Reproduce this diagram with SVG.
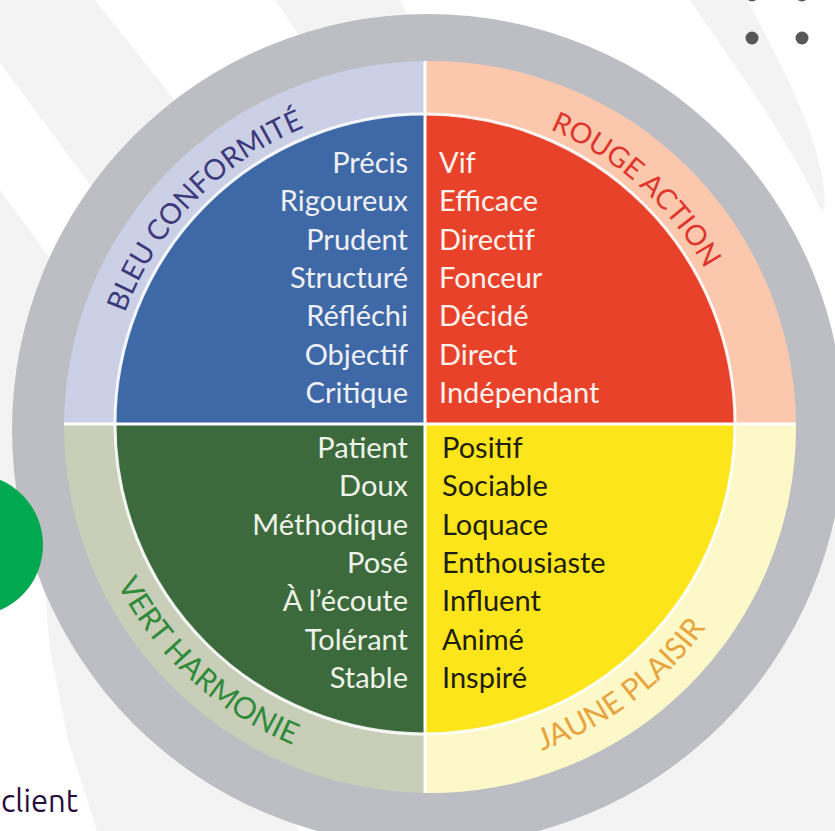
<svg xmlns="http://www.w3.org/2000/svg" width="835" height="831" viewBox="0 0 835 831">
<defs>
<style>
.w{font-family:Lato,"Open Sans","Liberation Sans",sans-serif;font-size:29px}
.lbl{font-family:Lato,"Open Sans","Liberation Sans",sans-serif;font-size:28.5px;font-weight:400}
.lblb{font-size:30px}
.bg{fill:#ffffff}
.dot{fill:#58585a}
.div{stroke:#ffffff;stroke-width:3;fill:none}
</style>
<path id="arcTop" d="M105,424 A320,320 0 0 1 745,424"/>
<path id="arcBot" d="M78,424 A347,347 0 0 0 772,424"/>
</defs>

<g id="background">
<rect x="0" y="0" width="835" height="831" fill="#f3f3f3"/>
<polygon class="bg" points="95,0 275,0 330,80 230,170"/>
<polygon class="bg" points="0,63 120,225 80,300 0,190"/>
<polygon class="bg" points="400,0 835,0 835,450 600,450"/>
<path fill="#f3f3f3" d="M690,0 L747,0 C790,80 825,150 825,205 L822,212 C790,140 730,60 690,0 Z"/>
<polygon class="bg" points="0,560 42,560 50,650 68,740 97,831 0,831"/>
<polygon class="bg" points="285,760 330,760 330,831 298,831"/>
</g>

<g id="decor">
<circle class="dot" cx="752" cy="-5" r="6.5"/>
<circle class="dot" cx="802" cy="-5" r="6.5"/>
<circle class="dot" cx="752" cy="38" r="6.5"/>
<circle class="dot" cx="802" cy="38" r="6.5"/>
</g>

<g id="outer-ring">
<circle cx="428" cy="430" r="416" fill="#bdbec3"/>
</g>

<g id="green-dot">
<circle cx="-28" cy="545" r="71" fill="#00a84f"/>
</g>

<g id="ring-bleu"><path d="M425,424 L425,61 A366,366 0 0 0 64,424 Z" fill="#ccd0e6"/></g>
<g id="ring-rouge"><path d="M425,424 L425,61 A366,366 0 0 1 796,424 Z" fill="#fbc8ae"/></g>
<g id="ring-vert"><path d="M425,424 L64,424 A366,366 0 0 0 425,793 Z" fill="#c8ceb7"/></g>
<g id="ring-jaune"><path d="M425,424 L796,424 A366,366 0 0 1 425,793 Z" fill="#fdf8c8"/></g>

<g id="quad-bleu"><path d="M425,424 L425,114 A310,310 0 0 0 115,424 Z" fill="#3f69a6"/></g>
<g id="quad-rouge"><path d="M425,424 L425,114 A310,310 0 0 1 735,424 Z" fill="#e8422a"/></g>
<g id="quad-vert"><path d="M425,424 L115,424 A310,310 0 0 0 425,734 Z" fill="#3d6a3c"/></g>
<g id="quad-jaune"><path d="M425,424 L735,424 A310,310 0 0 1 425,734 Z" fill="#fce51a"/></g>

<g id="dividers">
<circle class="div" cx="425" cy="424" r="310" stroke-width="2.5" opacity="0.9"/>
<line class="div" x1="425" y1="61" x2="425" y2="793"/>
<line class="div" x1="64" y1="424" x2="796" y2="424"/>
</g>

<g id="labels">
<text class="lbl" fill="#3d3a7c" text-anchor="middle"><textPath href="#arcTop" startOffset="246">BLEU CONFORMITÉ</textPath></text>
<text class="lbl" fill="#e0352b" text-anchor="middle"><textPath href="#arcTop" startOffset="737">ROUGE ACTION</textPath></text>
<text class="lbl lblb" fill="#2f8a3a" text-anchor="middle"><textPath href="#arcBot" startOffset="288">VERT HARMONIE</textPath></text>
<text class="lbl lblb" fill="#e8a33d" text-anchor="middle"><textPath href="#arcBot" startOffset="768">JAUNE PLAISIR</textPath></text>
</g>

<g id="list-bleu" class="w" fill="#eef0f5" text-anchor="end">
<text x="408" y="173">Précis</text>
<text x="408" y="211.3">Rigoureux</text>
<text x="408" y="249.7">Prudent</text>
<text x="408" y="288">Structuré</text>
<text x="408" y="326.3">Réfléchi</text>
<text x="408" y="364.7">Objectif</text>
<text x="408" y="403">Critique</text>
</g>

<g id="list-rouge" class="w" fill="#fdf3ee">
<text x="439" y="173">Vif</text>
<text x="439" y="211.3">Efficace</text>
<text x="439" y="249.7">Directif</text>
<text x="439" y="288">Fonceur</text>
<text x="439" y="326.3">Décidé</text>
<text x="439" y="364.7">Direct</text>
<text x="439" y="403">Indépendant</text>
</g>

<g id="list-vert" class="w" fill="#eef3ea" text-anchor="end">
<text x="408" y="458">Patient</text>
<text x="408" y="496.3">Doux</text>
<text x="408" y="534.7">Méthodique</text>
<text x="408" y="573">Posé</text>
<text x="408" y="611.3">À l’écoute</text>
<text x="408" y="649.7">Tolérant</text>
<text x="408" y="688">Stable</text>
</g>

<g id="list-jaune" class="w" fill="#1e1e14">
<text x="442" y="458">Positif</text>
<text x="442" y="496.3">Sociable</text>
<text x="442" y="534.7">Loquace</text>
<text x="442" y="573">Enthousiaste</text>
<text x="442" y="611.3">Influent</text>
<text x="442" y="649.7">Animé</text>
<text x="442" y="688">Inspiré</text>
</g>

<g id="caption">
<text x="78" y="812" text-anchor="end" font-family="Ubuntu,'Open Sans','Liberation Sans',sans-serif" font-size="31" fill="#2a0f3c">client</text>
</g>
</svg>
